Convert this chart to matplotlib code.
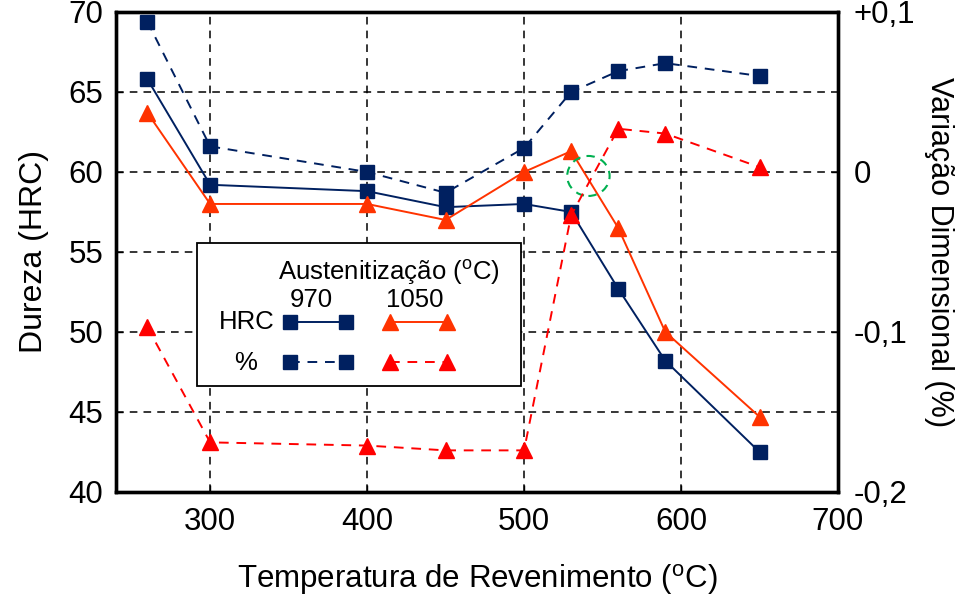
import matplotlib
matplotlib.use("Agg")
import matplotlib.pyplot as plt
from matplotlib.patches import Ellipse, Rectangle
from matplotlib.lines import Line2D

plt.rcParams['font.family'] = ['Liberation Sans', 'DejaVu Sans']
plt.rcParams['mathtext.fontset'] = 'custom'
plt.rcParams['mathtext.rm'] = 'Liberation Sans'

# tempering temperatures (ºC)
temps = [260, 300, 400, 450, 500, 530, 560, 590, 650]

# hardness (HRC)
hrc_970 = [65.8, 59.2, 58.8, 57.8, 58.0, 57.5, 52.7, 48.2, 42.5]
hrc_1050 = [63.7, 58.0, 58.0, 57.0, 60.0, 61.3, 56.5, 50.0, 44.7]

# dimensional change (%)
pct_970 = [0.094, 0.016, 0.000, -0.013, 0.015, 0.050, 0.063, 0.068, 0.060]
pct_1050 = [-0.097, -0.169, -0.171, -0.174, -0.174, -0.027, 0.027, 0.024, 0.003]

right_ticks = [0.1, 0.0, -0.1, -0.2]
right_labels = ['+0,1', '0', '-0,1', '-0,2']

NAVY = '#002060'
ORANGE = '#FF3300'
RED = '#FF0000'
GREEN = '#00B050'

fig = plt.figure(figsize=(9.6, 5.98), dpi=100)
ax = fig.add_axes([0.1208, 0.1773, 0.7521, 0.8027])
ax2 = ax.twinx()

ax.set_xlim(240, 700)
ax.set_ylim(40, 70)
ax2.set_ylim(-0.2, 0.1)

ax.set_xticks([300, 400, 500, 600, 700])
ax.set_yticks([40, 45, 50, 55, 60, 65, 70])
ax2.set_yticks(right_ticks)
ax2.set_yticklabels(right_labels)

ax.grid(True, color='black', linestyle=(0, (5, 4)), linewidth=1.1)

for a in (ax, ax2):
    for s in a.spines.values():
        s.set_linewidth(2.4)
    a.tick_params(direction='in', length=5, width=1.0, labelsize=22.5)
ax.tick_params(axis='x', pad=11)
ax.tick_params(axis='y', pad=9)
ax2.tick_params(axis='y', pad=11)

ax.plot(temps, hrc_970, color=NAVY, lw=1.4, marker='s', ms=9.5, zorder=3)
ax.plot(temps, hrc_1050, color=ORANGE, lw=1.4, marker='^', ms=11, zorder=3)
ax2.plot(temps, pct_970, color=NAVY, lw=1.4, ls=(0, (5, 4)), marker='s', ms=9.5, zorder=3)
ax2.plot(temps, pct_1050, color=RED, lw=1.4, ls=(0, (5, 4)), marker='^', ms=11, zorder=3)

ax.add_patch(Ellipse((541, 59.75), 27, 2.5, fill=False, edgecolor=GREEN,
                     lw=1.5, ls=(0, (4, 3)), zorder=4))

ax.set_xlabel('Temperatura de Revenimento ($^{\\rm o}$C)', fontsize=22.5, labelpad=18)
ax.set_ylabel('Dureza (HRC)', fontsize=23, labelpad=14)
ax2.set_ylabel('Variação Dimensional (%)', fontsize=22, rotation=270, labelpad=28)

# hand-made legend box
ax2.add_patch(Rectangle((0.112, 0.221), 0.449, 0.298, transform=ax2.transAxes,
                        facecolor='white', edgecolor='black', lw=1.3, zorder=5))
tkw = dict(transform=ax2.transAxes, fontsize=18.5, zorder=6, va='center')
ax2.text(0.225, 0.458, 'Austenitização ($^{\\rm o}$C)', ha='left', **tkw)
ax2.text(0.270, 0.400, '970', ha='center', **tkw)
ax2.text(0.414, 0.400, '1050', ha='center', **tkw)
ax2.text(0.181, 0.354, 'HRC', ha='center', **tkw)
ax2.text(0.179, 0.269, '%', ha='center', **tkw)
samples = [
    ((0.241, 0.319), 0.354, NAVY, '-', 's', 9.5),
    ((0.380, 0.458), 0.354, ORANGE, '-', '^', 11),
    ((0.241, 0.319), 0.271, NAVY, (0, (5, 4)), 's', 9.5),
    ((0.380, 0.458), 0.271, RED, (0, (5, 4)), '^', 11),
]
for xs, y, c, ls, m, ms in samples:
    ax2.add_line(Line2D(xs, [y, y], transform=ax2.transAxes, color=c, ls=ls,
                        lw=1.4, marker=m, ms=ms, zorder=6))

fig.savefig('out.png', dpi=100)
